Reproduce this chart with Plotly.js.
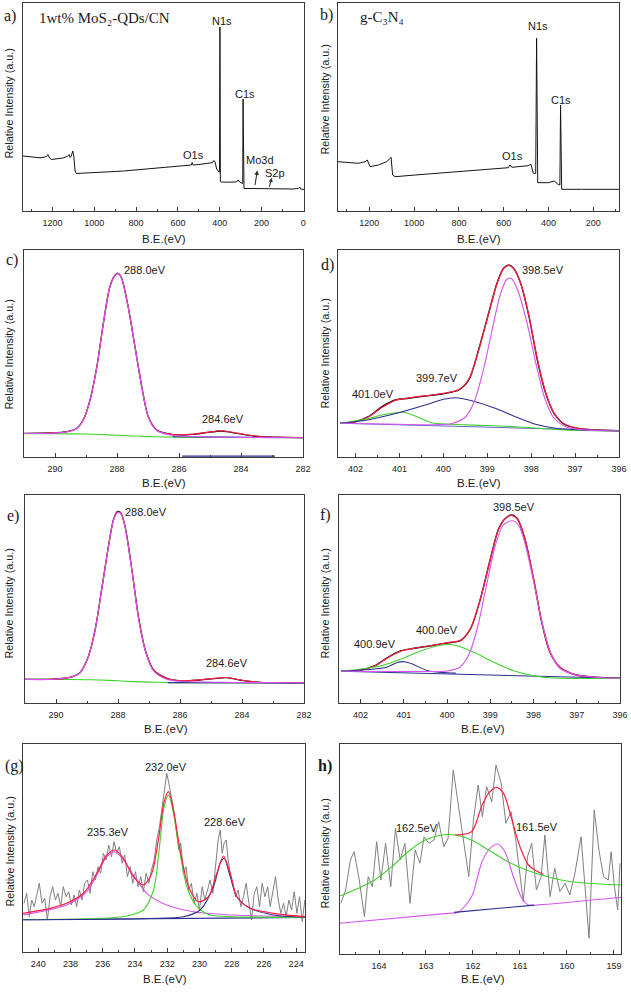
<!DOCTYPE html>
<html><head><meta charset="utf-8">
<script src="https://cdn.plot.ly/plotly-3.0.1.min.js"></script>
<style>html,body{margin:0;padding:0;background:#fff}#chart{width:631px;height:992px}</style>
</head><body><div id="chart"></div>
<script>
// ---------- DATA (B.E. in eV, intensity in arbitrary units) ----------
// a) survey 1wt% MoS2-QDs/CN
const aE = [1341,1320,1300,1280,1260,1240,1228,1222,1214,1205,1190,1170,1150,1130,1120,1116,1110,1103,1098,1092,1086,1060,1030,1000,970,940,900,860,820,780,740,700,660,620,580,550,536,532,528,500,470,445,435,428,422,415,410,404,401,399,397,393,370,340,320,312,305,296,290,288.5,287,284,250,200,150,100,50,25,18,13,0,-3];
const aI = [55,54.5,53.7,53.5,53.2,53.8,54.5,56.5,53,51.5,51.8,52.5,53,54.5,56.5,53.5,55,60,55,40,37.5,37.8,38,38.4,38.6,39,39.5,40,40.7,41.3,42,43,43.8,44.5,45,45.5,46,48.5,46,46.5,47,48,48.3,50.5,49,42,40,39,39,184,29.5,29,28.8,28.5,29,31,29,28,27.5,112,23,22.5,22.5,22.3,22,22,22,22.5,24,22,21.5,21.5];
// b) survey g-C3N4
const bE = [1340,1294,1249,1219,1209,1197,1160,1122,1103,1096,1085,996,847,698,579,572,564,490,478,468,457,453,448,401,374,359,349,346,341,252,103,88,85];
const bI = [49.3,48.3,47.7,49.3,51,44.3,46,49.3,53.7,36,34.3,36,38.7,41.7,43.3,46,43.7,45.3,46.7,37.7,37.7,172.7,28.3,28.3,30,27,26,106,21.7,21.7,22.3,21.7,21.7];

// c) C1s, 1wt% MoS2-QDs/CN
const cE = [291.0,290.16,289.62,289.30,289.09,288.87,288.65,288.44,288.23,288.06,287.96,287.85,287.64,287.42,287.20,286.99,286.72,286.40,285.97,285.54,285.11,284.62,284.14,283.60,283.17,282.64,282.0];
const cExp = [23.7,24,25.3,28.7,37,57,90.3,133.7,170.3,182,183.7,178.7,150.3,110.3,70.3,40.3,27,23.7,22,22.7,24.3,26,23.7,21,20,19.7,19.3];
const cFit = [23.5,23.9,25.2,28.6,36.8,56.8,90,133.5,170,181.8,183.5,178.5,150,110,70,40,26.8,23.4,22.1,22.9,24.6,26.2,23.9,21.2,20.1,19.7,19.3];
const cMag = [23.5,23.8,25,28.5,36.7,56.7,90,133.5,170,181.7,183.5,178.5,150,110,70,40,26.5,22.8,21,20.5,20,19.8,19.6,19.5,19.4,19.3,19.3];
const cBgE = [291.0,290.0,289.0,288.5,288.0,287.5,287.0,286.5,286.0,284.0,282.0];
const cBg = [23.3,23.2,23.0,22.5,21.8,21.0,20.4,20.0,19.8,19.5,19.3];
const cBaseE = [286.2,283.0];
const cBase = [20.2,19.6];
const cFloorE = [285.9,282.9];
const cFloor = [0.8,0.8];

// d) N1s, 1wt% MoS2-QDs/CN
const dE = [402.35,402.01,401.71,401.40,401.10,400.79,400.41,400.03,399.65,399.42,399.20,398.97,398.78,398.63,398.51,398.40,398.24,398.05,397.86,397.67,397.48,397.22,396.84,396.46,396.00];
const dExp = [33.7,35.3,40.3,50.3,57,58.7,61,63,67,77,107,143.7,173.7,188.7,192,188.7,173.7,140.3,97,63.7,43.7,32,28,27,26.3];
const dFit = [33.5,35,40,49.5,56.5,59,61.3,63.5,67.5,78,106,143,173,188.5,191.5,188.5,173.5,141,98,64.5,44,32.5,28.2,27,26.3];
const dMagE = [402.35,401.0,400.2,399.8,399.5,399.3,399.1,398.9,398.7,398.55,398.45,398.3,398.1,397.9,397.7,397.5,397.2,396.8,396.0];
const dMag = [33.7,32.8,32.3,33.5,40,55,85,125,163,178,178.5,166,135,95,60,40,30,27,26.3];
const dBlueE = [402.35,401.8,401.06,400.41,400.0,399.73,399.27,398.82,398.36,397.9,397.44,396.84,396.0];
const dBlue = [33.7,36.5,43.7,52,57.7,59.3,55.3,48.7,40.3,32.7,28.7,27,26.3];
const dGreenE = [402.35,401.78,401.40,400.93,400.64,400.26,399.87,399.0,398.36,397.22,396.0];
const dGreen = [33.7,37.7,42,44.7,41,34.3,32.7,31.5,30.3,27,26];
const dBaseE = [402.35,396.0];
const dBase = [33.7,26.3];

// e) C1s, g-C3N4
const eE = [291.0,290.19,289.55,289.23,288.96,288.74,288.53,288.31,288.15,288.02,287.91,287.77,287.55,287.34,287.12,286.85,286.42,285.89,285.35,284.81,284.49,283.95,283.42,282.66,282.0];
const eExp = [23.7,23.7,25.7,30.3,46.3,73,113,156.3,183,191.3,190.3,176.3,133,86.3,53,33,24.7,22,23,24.7,25.3,22.3,20.7,20.3,20.3];
const eFit = [23.6,23.6,25.6,30.1,46.1,72.8,112.8,156,182.6,190.6,189.8,175.8,132.5,85.8,52.6,32.6,24.5,22.1,23.2,24.9,25.5,22.5,20.8,20.3,20.3];
const eMag = [23.5,23.5,25.5,30,46,72.7,112.7,156,182.5,190.5,189.5,175.5,132,85,52,32,23.5,21.5,21,20.8,20.6,20.5,20.4,20.3,20.3];
const eBgE = [291.0,290.0,289.0,288.6,288.0,287.5,287.0,286.5,286.0,284.0,282.0];
const eBg = [23.7,23.6,23.3,23,22.2,21.4,20.9,20.5,20.3,20.3,20.3];
const eBaseE = [286.4,282.0];
const eBase = [20.4,20.0];

// f) N1s, g-C3N4
const fE = [402.45,402.06,401.67,401.37,401.06,400.76,400.37,399.99,399.69,399.46,399.23,399.0,398.81,398.65,398.50,398.37,398.20,398.00,397.81,397.62,397.39,397.01,396.55,396.0];
const fExp = [31.7,32.3,37.3,45.7,52.3,54.7,57.3,60,62.3,74,104,144,174,184.7,188,184,164,124,80.7,50.7,35.7,28,25.7,24.7];
const fFit = [31.6,32.2,37,45.3,52,54.8,57.5,60.3,62.8,74.5,104,143.5,173.5,184.5,187.5,184,164.5,124.5,81,51,35.8,28,25.7,24.7];
const fMagE = [402.45,400.5,400.0,399.7,399.5,399.3,399.1,398.9,398.7,398.5,398.35,398.2,398.0,397.8,397.6,397.4,397.0,396.5,396.0];
const fMag = [31.7,31.5,32,36,48,75,115,155,178,182.3,178,160,122,80,50,35,28,25.5,24.7];
const fGreenE = [402.45,401.52,401.06,400.6,400.07,399.76,399.38,398.92,398.46,398.0,397.54,396.0];
const fGreen = [31.7,37.3,44,52.3,58.3,57.3,50.7,40.7,32.3,27.3,25,24.7];
const fBlueE = [402.45,401.8,401.4,401.14,400.99,400.8,400.45,400.0,399.8];
const fBlue = [31.7,33.5,35.7,40.7,41.3,39,32.3,30.2,29.9];
const fBaseE = [402.45,396.0];
const fBase = [31.7,24.7];

// g) Mo3d
const gE = [240.89,240.72,240.56,240.41,240.25,240.10,239.94,239.77,239.60,239.44,
            239.27,239.11,238.94,238.78,238.61,238.45,238.28,238.11,237.95,237.78,
            237.62,237.45,237.29,237.12,236.95,236.79,236.62,236.46,236.29,236.13,
            235.96,235.79,235.63,235.46,235.30,235.13,234.97,234.80,234.64,234.47,
            234.30,234.14,233.97,233.81,233.64,233.48,233.31,233.14,232.98,232.81,
            232.65,232.48,232.32,232.15,232.03,231.90,231.78,231.65,231.53,231.41,
            231.28,231.16,230.99,230.83,230.66,230.50,230.33,230.16,230.00,229.83,
            229.67,229.50,229.34,229.17,229.00,228.84,228.71,228.59,228.47,228.34,
            228.22,228.09,227.93,227.76,227.60,227.43,227.27,227.10,226.93,226.77,
            226.60,226.44,226.27,226.11,225.94,225.77,225.61,225.44,225.28,225.11,
            224.95,224.78,224.62,224.45,224.28,224.12,223.95,223.79,223.62,223.46];
const gI = [48.7,58.7,35.3,52,45.3,57,68.7,48.7,53.7,32,
            55.3,65.3,52,58.7,45.3,65.3,55.3,60.3,47,57,
            45.3,62,52,68.7,72,58.7,80.3,72,85.3,78.7,
            98.7,92,107,95.3,110.3,98.7,105.3,88.7,97,75.3,
            85.3,68.7,80.3,65.3,75.3,60.3,78.7,68.7,82,92,
            112,125.3,145.3,162,178.7,168.7,158.7,147,132,118.7,
            102,108.7,78.7,85.3,62,68.7,48.7,58.7,42,65.3,
            52,62,72,58.7,85.3,112,122,98.7,108.7,112,
            92,78.7,68.7,55.3,62,45.3,55.3,68.7,48.7,32,
            58.7,65.3,45.3,68.7,55.3,65.3,45.3,62,75.3,52,
            38.7,48.7,35.3,52,42,60.3,38.7,55.3,30.3,52];
const gFitE = [240.95,239.27,238.24,237.20,236.37,235.75,235.24,234.72,234.10,233.48,232.96,232.55,232.19,231.92,231.61,231.20,230.68,230.06,229.44,228.92,228.51,228.09,227.68,226.85,225.40,223.45];
const gFit = [38.7,43.7,48.7,58.7,78.7,97,102,93.7,75.3,67,78.7,112,150.3,160.3,142,102,65.3,50.3,55.3,78.7,96,78.7,55.3,43.7,38.7,35.3];
const gMagE = [240.93,238.24,237.0,236.37,235.75,235.24,234.72,234.10,233.27,232.03,230.37,227.89,223.44];
const gMag = [37,47,60.3,77,95.3,100.3,92,77,58.7,47,40.3,37,35.3];
const gGreenE = [240.93,236.17,234.51,233.48,232.85,232.48,232.19,231.92,231.61,231.20,230.78,230.16,229.34,227.89,223.44];
const gGreen = [32.5,33.5,36,42,62,105.3,145.3,157,138.7,98.7,65.3,45.3,37,35.3,34.5];
const gBlueE = [240.93,233.06,231.0,229.96,229.13,228.71,228.47,228.09,227.68,226.85,225.40,223.44];
const gBlue = [32.3,33.5,35.3,42,65.3,88.7,93.7,75.3,55.3,43.7,37,34.7];
const gBaseE = [240.95,223.45];
const gBase = [32.3,34.5];

// h) S2p
const hE = [164.81,164.71,164.61,164.53,164.42,164.31,164.23,164.14,164.05,163.96,
            163.86,163.75,163.65,163.55,163.45,163.34,163.23,163.13,163.04,162.94,
            162.83,162.73,162.62,162.53,162.42,162.31,162.21,162.09,161.99,161.89,
            161.80,161.71,161.60,161.51,161.40,161.30,161.19,161.09,160.93,160.84,
            160.75,160.65,160.55,160.47,160.36,160.26,160.15,160.04,159.94,159.83,
            159.70,159.62,159.53,159.42,159.32,159.22,159.12,159.06,158.99,158.92,158.87];
const hI = [50.7,64,94,102.3,74,37.3,77.3,67.3,112.3,74,
            110.7,67.3,125.7,94,110.7,50.7,104,90.7,117.3,110.7,
            114,132.3,107.3,115.7,184,147.3,117.3,77.3,134,169,
            137.3,167.3,152.3,189,170.7,130.7,142.3,114,52.3,97.3,
            110.7,64,77.3,119,57.3,85.7,62.3,70.7,59,80.7,
            117.3,70.7,15.7,144,104,77.3,74,102.3,67.3,44,90.7];
const hGreenE = [164.83,164.44,164.09,163.73,163.38,163.02,162.67,162.38,162.03,161.67,161.32,160.96,160.54,160.04,159.55,158.85];
const hGreen = [58,65.7,74,87.3,102.3,114,119,119,114,104,94,85.7,79,73.3,70.7,69];
const hRedE = [162.38,162.03,161.82,161.67,161.5,161.35,161.17,161.0,160.82,160.68,160.5];
const hRed = [119,122.3,147.3,160.7,166.7,160.7,134,107.3,89,84,79.5];
const hMagE = [164.83,162.6,162.31,162.03,161.82,161.67,161.48,161.32,161.14,160.96,160.82,160.6,158.85];
const hMag = [30.7,40.4,42,57.3,90.7,104,110,102.3,77.3,55.7,49,49.1,56.7];
const hBaseE = [162.4,160.7];
const hBase = [41.6,48.9];

// ---------- STYLE / LAYOUT ----------
const W = 631, H = 992;
const BLACK = '#151515', RED = '#ff1f46', MAG = '#d554f2', GREEN = '#3fd22c', BLUE = '#2c2f8e', PURP = '#6a62c8', GRAY = '#808080';
const SANS = 'Liberation Sans, Arial, sans-serif';
const SERIF = 'Liberation Serif, Times New Roman, serif';
// plot boxes in px: [left, right, top, bottom]
const boxes = [[23,304,3,211],[338,619,3,211],[24,303,250,457],[338,619,250,457],
               [25,304,495,703],[339,620,495,703],[23,305,744,952],[340,621,744,954]];
const xr = [[1341,-3],[1340,85],[291.0,282],[402.4,396],[291.0,282],[402.5,396],[240.95,223.45],[164.83,158.85]];
const dt = [[200,100],[200,100],[2,1],[1,0.5],[2,1],[1,0.5],[2,1],[1,0.5]];

const traces = [];
function L(n, x, y, color, width, shape) {
  traces.push({type:'scatter', mode:'lines', x:x, y:y,
    xaxis: n===1?'x':'x'+n, yaxis: n===1?'y':'y'+n,
    line:{color:color, width:width||1.1, shape:shape||'linear', smoothing:0.8},
    hoverinfo:'skip', showlegend:false});
}
// a, b
L(1, aE, aI, BLACK, 1);
L(2, bE, bI, BLACK, 1);
// c
L(3, cBgE, cBg, GREEN, 1.1, 'spline');
L(3, cFloorE, cFloor, BLUE, 1.2);
L(3, cE, cExp, BLACK, 1.3, 'spline');
L(3, cE, cFit, RED, 1.1, 'spline');
L(3, cBaseE, cBase, BLUE, 1.1);
L(3, cE, cMag, MAG, 1.1, 'spline');
// d
L(4, dE, dExp, BLACK, 1.4, 'spline');
L(4, dE, dFit, RED, 1.2, 'spline');
L(4, dBaseE, dBase, PURP, 1.1);
L(4, dGreenE, dGreen, GREEN, 1.1, 'spline');
L(4, dBlueE, dBlue, BLUE, 1.1, 'spline');
L(4, dMagE, dMag, MAG, 1.1, 'spline');
// e
L(5, eBgE, eBg, GREEN, 1.1, 'spline');
L(5, eE, eExp, BLACK, 1.3, 'spline');
L(5, eE, eFit, RED, 1.1, 'spline');
L(5, eBaseE, eBase, BLUE, 1.1);
L(5, eE, eMag, MAG, 1.1, 'spline');
// f
L(6, fE, fExp, BLACK, 1.4, 'spline');
L(6, fE, fFit, RED, 1.2, 'spline');
L(6, fBaseE, fBase, BLUE, 1.1);
L(6, fGreenE, fGreen, GREEN, 1.1, 'spline');
L(6, fBlueE, fBlue, BLUE, 1.1, 'spline');
L(6, fMagE, fMag, MAG, 1.1, 'spline');
// g
L(7, gE, gI, GRAY, 1);
L(7, gBaseE, gBase, BLUE, 1.1);
L(7, gMagE, gMag, MAG, 1.1, 'spline');
L(7, gGreenE, gGreen, GREEN, 1.1, 'spline');
L(7, gBlueE, gBlue, BLUE, 1.1, 'spline');
L(7, gFitE, gFit, RED, 1.2, 'spline');
// h
L(8, hE, hI, GRAY, 1);
L(8, hGreenE, hGreen, GREEN, 1.1, 'spline');
L(8, hMagE, hMag, MAG, 1.1, 'spline');
L(8, hBaseE, hBase, BLUE, 1.1);
L(8, hRedE, hRed, RED, 1.2, 'spline');

const layout = {width:W, height:H, margin:{l:0,r:0,t:0,b:0}, paper_bgcolor:'#fff', plot_bgcolor:'#fff',
  showlegend:false, annotations:[], shapes:[]};
boxes.forEach(function(b, i){
  const n = i+1, sfx = n===1?'':String(n);
  layout['xaxis'+sfx] = {domain:[b[0]/W, b[1]/W], range:xr[i], anchor: n===1?'y':'y'+n,
    showline:true, mirror:true, linecolor:'#3a3a3a', linewidth:1, showgrid:false, zeroline:false,
    ticks:'inside', ticklen:4, tickwidth:1, tickcolor:'#3a3a3a', dtick:dt[i][0], tick0:0,
    minor:{ticks:'inside', ticklen:2.5, tickwidth:1, tickcolor:'#3a3a3a', dtick:dt[i][1], tick0:0, showgrid:false},
    tickfont:{family:SANS, size:9, color:'#222'}, ticklabelstandoff:3, fixedrange:true};
  layout['yaxis'+sfx] = {domain:[1-b[3]/H, 1-b[2]/H], range:[0, b[3]-b[2]], anchor: n===1?'x':'x'+n,
    showline:true, mirror:true, linecolor:'#3a3a3a', linewidth:1, showgrid:false, zeroline:false,
    ticks:'', showticklabels:false, fixedrange:true};
});

function T(text, px, py, size, family, extra) {
  const a = {text:text, xref:'paper', yref:'paper', x:px/W, y:1-py/H, showarrow:false,
    xanchor:'center', yanchor:'middle', font:{family:family||SANS, size:size||11, color:'#1a1a1a'}};
  Object.assign(a, extra||{});
  layout.annotations.push(a);
}
// small pointer arrows (Mo3d, S2p) drawn as shapes, given in px of the page
function arrow(tx, ty, hx, hy, len, half) {
  const dx = hx-tx, dy = hy-ty, m = Math.sqrt(dx*dx+dy*dy), ux = dx/m, uy = dy/m;
  const bx = hx-len*ux, by = hy-len*uy, px = -uy, py = ux;
  const P = function(x,y){return (x/W).toFixed(5)+','+(1-y/H).toFixed(5);};
  layout.shapes.push({type:'line', xref:'paper', yref:'paper', x0:tx/W, y0:1-ty/H, x1:bx/W, y1:1-by/H, line:{color:'#222', width:1}});
  layout.shapes.push({type:'path', xref:'paper', yref:'paper',
    path:'M'+P(hx,hy)+' L'+P(bx+half*px,by+half*py)+' L'+P(bx-half*px,by-half*py)+' Z',
    fillcolor:'#222', line:{color:'#222', width:0.5}});
}
arrow(255, 185, 257.3, 170.7, 4, 1.8);
arrow(269.3, 186.7, 271.7, 178.3, 3.5, 1.6);

// panel letters
T('a)', 10, 16, 16, SERIF); T('b)', 326, 15, 16, SERIF);
T('c)', 12, 260, 16, SERIF); T('d)', 327, 265, 16, SERIF);
T('e)', 13, 516, 16, SERIF); T('f)', 325, 515, 16, SERIF);
T('(g)', 14, 766, 16, SERIF); T('h)', 325, 766, 16, SERIF, {font:{family:SERIF, size:16, color:'#1a1a1a', weight:'bold'}});
// sample names (Unicode subscripts)
T('1wt% MoS\u2082-QDs/CN', 37, 18, 15, SERIF, {xanchor:'left'});
T('g-C\u2083N\u2084', 358, 17, 15, SERIF, {xanchor:'left'});
// survey labels
T('N1s', 222, 21); T('C1s', 245, 94); T('O1s', 194, 155); T('Mo3d', 260, 160); T('S2p', 275, 173);
T('N1s', 538, 26); T('C1s', 561, 100); T('O1s', 512, 156);
// peak labels
T('288.0eV', 145, 270); T('284.6eV', 223, 419);
T('398.5eV', 543, 270); T('399.7eV', 437, 378); T('401.0eV', 373, 394);
T('288.0eV', 146, 512); T('284.6eV', 227, 663);
T('398.5eV', 514, 507); T('400.0eV', 437, 630); T('400.9eV', 375, 644);
T('232.0eV', 166, 767); T('235.3eV', 108, 832); T('228.6eV', 225, 822);
T('162.5eV', 417, 828); T('161.5eV', 537, 827);
// axis titles
[[163.5,239],[478.5,239],[164,483],[478.5,483],[165.5,729],[482.5,729],[165,979],[482.5,979]].forEach(function(p){
  T('B.E.(eV)', p[0], p[1], 11.5);
});
[[8.5,104],[324.5,100],[8.5,355],[324.5,354],[8.5,604],[324.5,604],[9.5,852],[324.5,854]].forEach(function(p){
  T('Relative Intensity (a.u.)', p[0], p[1], 10.8, SANS, {textangle:-90});
});

Plotly.newPlot('chart', traces, layout, {staticPlot:true, displayModeBar:false});
</script></body></html>
